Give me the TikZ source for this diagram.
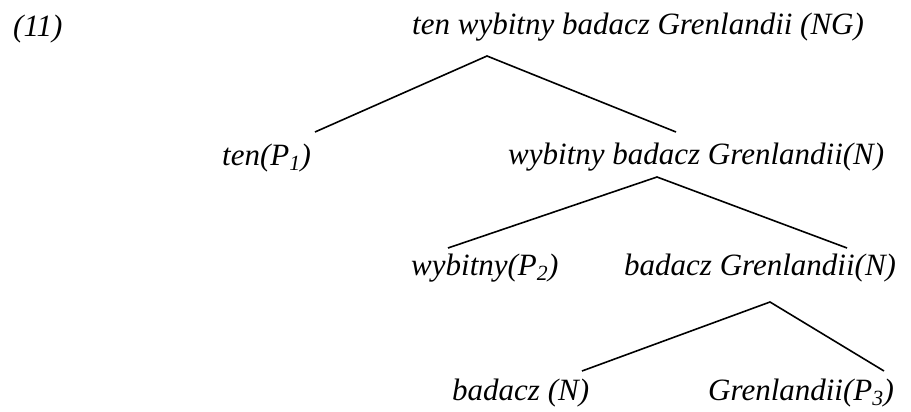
\documentclass[tikz,border=0pt]{standalone}
\usepackage{fontspec}
\setmainfont{Liberation Serif}
\usepackage{tikz}

\begin{document}
\begin{tikzpicture}[x=1pt, y=-1pt,
    lbl/.style={anchor=base west, inner sep=0pt, font=\fontsize{31}{37}\selectfont\itshape},
    branch/.style={line width=1.6pt}]
    \useasboundingbox (0,0) rectangle (911,412);

    % Example number and the whole phrase
    \node[lbl] (num) at (13,37) {(11)};
    \node[lbl] (ng) at (412,35) {ten wybitny badacz Grenlandii (NG)};

    % First split
    \node[lbl] (p1) at (222,165) {ten(P\textsubscript{1})};
    \node[lbl] (n1) at (508,164) {wybitny badacz Grenlandii(N)};

    % Second split
    \node[lbl] (p2) at (411,275) {wybitny(P\textsubscript{2})};
    \node[lbl] (n2) at (624,275) {badacz Grenlandii(N)};

    % Third split
    \node[lbl] (n3) at (452,400) {badacz (N)};
    \node[lbl] (p3) at (708,400) {Grenlandii(P\textsubscript{3})};

    % Branch points
    \coordinate (ng-root) at (487,56);
    \coordinate (p1-top) at (315,132);
    \coordinate (n1-top) at (676,132);
    \coordinate (n1-root) at (657,177);
    \coordinate (p2-top) at (448,248);
    \coordinate (n2-top) at (847,248);
    \coordinate (n2-root) at (770,302);
    \coordinate (n3-top) at (582,371);
    \coordinate (p3-top) at (884,371);

    \draw[branch] (p1-top) -- (ng-root) -- (n1-top);
    \draw[branch] (p2-top) -- (n1-root) -- (n2-top);
    \draw[branch] (n3-top) -- (n2-root) -- (p3-top);
\end{tikzpicture}
\end{document}
